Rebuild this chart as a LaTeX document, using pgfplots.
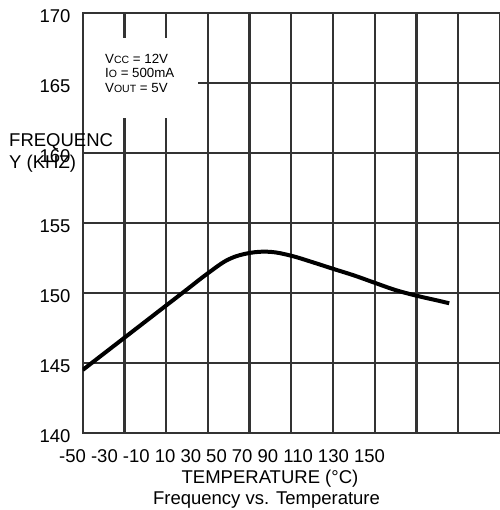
\documentclass[border=0pt]{standalone}
\usepackage{fontspec}
\setmainfont{Liberation Sans}
\usepackage{pgfplots}
\pgfplotsset{compat=1.18}

\begin{document}
\begin{tikzpicture}
\path[use as bounding box] (-82.7pt,-77pt) rectangle (416.3pt,433pt);
\begin{axis}[
  at={(0,0)}, anchor=south west,
  scale only axis, width=417.2pt, height=420.3pt,
  xmin=-50, xmax=150, ymin=140, ymax=170,
  xtick={-50,-30,...,150}, xticklabels={},
  ytick={140,145,...,170},
  major tick length=0pt,
  grid=major,
  grid style={line width=2.3pt, black!80},
  axis line style={line width=2.3pt, black!80},
  yticklabel style={font=\fontsize{18.5}{20}\selectfont, anchor=east, inner sep=0pt, xshift=-12pt, yshift=-3pt},
  /pgf/number format/assume math mode=true,
]
\addplot[line width=4pt, black, smooth, tension=0.6] coordinates {
  (-50,144.5) (-40,145.65) (-30,146.8) (-20,147.95) (-10,149.1)
  (0,150.25) (10,151.4) (20,152.4) (30,152.85) (40,152.93)
  (50,152.65) (60,152.2) (70,151.72) (80,151.25) (90,150.72)
  (100,150.2) (110,149.8) (120,149.46) (125.7,149.26)
};
\end{axis}
% condition box over the grid
\fill[white] (1.5pt,315pt) rectangle (115.3pt,395pt);
\node[anchor=base west, inner sep=0pt, font=\fontsize{13.3}{14}\selectfont] at (22.3pt,369.3pt) {V{\fontsize{10.5}{11}\selectfont CC} = 12V};
\node[anchor=base west, inner sep=0pt, font=\fontsize{13.3}{14}\selectfont] at (22.3pt,355.3pt) {I{\fontsize{10.5}{11}\selectfont O} = 500mA};
\node[anchor=base west, inner sep=0pt, font=\fontsize{13.3}{14}\selectfont] at (22.3pt,340.7pt) {V{\fontsize{10.5}{11}\selectfont OUT} = 5V};
% y label, broken as in the source
\node[anchor=base west, inner sep=0pt, font=\fontsize{18.5}{20}\selectfont] at (-73.7pt,286.3pt) {FREQUENC};
\node[anchor=base west, inner sep=0pt, font=\fontsize{18.5}{20}\selectfont] at (-73.7pt,264.7pt) {Y (KHZ)};
% x tick labels, x label and caption
\node[anchor=base west, inner sep=0pt, font=\fontsize{18.5}{20}\selectfont] at (-23.7pt,-29.3pt) {-50 -30 -10 10 30 50 70 90 110 130 150};
\node[anchor=base, inner sep=0pt, font=\fontsize{18.5}{20}\selectfont] at (187.3pt,-50.3pt) {TEMPERATURE (°C)};
\node[anchor=base, inner sep=0pt, font=\fontsize{18.5}{20}\selectfont] at (183.8pt,-71.3pt) {Frequency vs. Temperature};
\end{tikzpicture}
\end{document}
